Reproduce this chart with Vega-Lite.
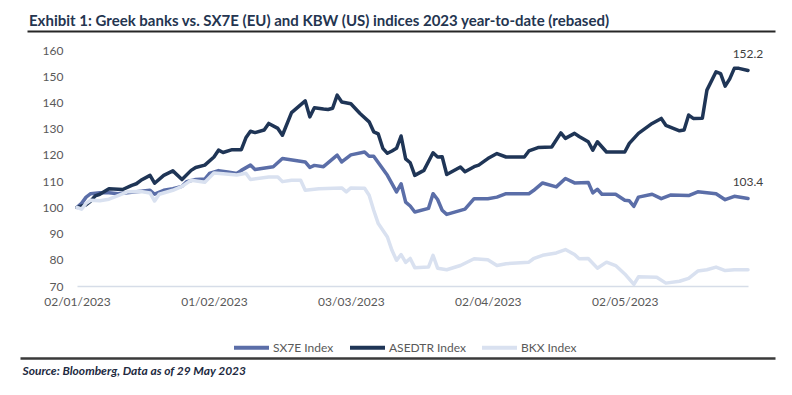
{
"$schema":"https://vega.github.io/schema/vega-lite/v6.json",
"width":671,"height":236,
"autosize":{"type":"none"},
"padding":{"left":77,"top":50,"right":44,"bottom":109},
"background":"white",
"config":{"view":{"stroke":null},"font":"Lato"},
"title":{"text":"Exhibit 1: Greek banks vs. SX7E (EU) and KBW (US) indices 2023 year-to-date (rebased)","anchor":"start","frame":"group","dx":-48,"offset":2,"font":"Lato","fontSize":15,"fontWeight":"bold","color":"#243550"},
"data":{"values":[
{"date":"2023-01-02","series":"SX7E Index","value":100},
{"date":"2023-01-03","series":"SX7E Index","value":101.5},
{"date":"2023-01-04","series":"SX7E Index","value":103.9},
{"date":"2023-01-05","series":"SX7E Index","value":105.2},
{"date":"2023-01-07","series":"SX7E Index","value":105.6},
{"date":"2023-01-09","series":"SX7E Index","value":105.6},
{"date":"2023-01-11","series":"SX7E Index","value":105.2},
{"date":"2023-01-15","series":"SX7E Index","value":105.9},
{"date":"2023-01-18","series":"SX7E Index","value":106.5},
{"date":"2023-01-19","series":"SX7E Index","value":105},
{"date":"2023-01-21","series":"SX7E Index","value":106.5},
{"date":"2023-01-23","series":"SX7E Index","value":107.1},
{"date":"2023-01-25","series":"SX7E Index","value":108},
{"date":"2023-01-26","series":"SX7E Index","value":109.8},
{"date":"2023-01-28","series":"SX7E Index","value":110.6},
{"date":"2023-01-30","series":"SX7E Index","value":110.8},
{"date":"2023-01-31","series":"SX7E Index","value":112.9},
{"date":"2023-02-02","series":"SX7E Index","value":114},
{"date":"2023-02-04","series":"SX7E Index","value":113.5},
{"date":"2023-02-06","series":"SX7E Index","value":112.9},
{"date":"2023-02-07","series":"SX7E Index","value":114.1},
{"date":"2023-02-09","series":"SX7E Index","value":116.1},
{"date":"2023-02-10","series":"SX7E Index","value":114.4},
{"date":"2023-02-14","series":"SX7E Index","value":115.5},
{"date":"2023-02-16","series":"SX7E Index","value":118.6},
{"date":"2023-02-21","series":"SX7E Index","value":117.3},
{"date":"2023-02-22","series":"SX7E Index","value":115.2},
{"date":"2023-02-23","series":"SX7E Index","value":116},
{"date":"2023-02-25","series":"SX7E Index","value":115.5},
{"date":"2023-02-28","series":"SX7E Index","value":119.9},
{"date":"2023-03-01","series":"SX7E Index","value":117.3},
{"date":"2023-03-03","series":"SX7E Index","value":120},
{"date":"2023-03-06","series":"SX7E Index","value":121.1},
{"date":"2023-03-07","series":"SX7E Index","value":119.5},
{"date":"2023-03-08","series":"SX7E Index","value":119.5},
{"date":"2023-03-11","series":"SX7E Index","value":112.2},
{"date":"2023-03-13","series":"SX7E Index","value":105.9},
{"date":"2023-03-14","series":"SX7E Index","value":109},
{"date":"2023-03-15","series":"SX7E Index","value":102},
{"date":"2023-03-16","series":"SX7E Index","value":100.5},
{"date":"2023-03-17","series":"SX7E Index","value":98.2},
{"date":"2023-03-20","series":"SX7E Index","value":99.6},
{"date":"2023-03-21","series":"SX7E Index","value":105.2},
{"date":"2023-03-22","series":"SX7E Index","value":103},
{"date":"2023-03-23","series":"SX7E Index","value":98.9},
{"date":"2023-03-24","series":"SX7E Index","value":97.3},
{"date":"2023-03-28","series":"SX7E Index","value":99.3},
{"date":"2023-03-30","series":"SX7E Index","value":103.3},
{"date":"2023-04-02","series":"SX7E Index","value":103.3},
{"date":"2023-04-04","series":"SX7E Index","value":103.9},
{"date":"2023-04-06","series":"SX7E Index","value":105.2},
{"date":"2023-04-11","series":"SX7E Index","value":105.2},
{"date":"2023-04-12","series":"SX7E Index","value":106.4},
{"date":"2023-04-14","series":"SX7E Index","value":109.3},
{"date":"2023-04-17","series":"SX7E Index","value":107.8},
{"date":"2023-04-19","series":"SX7E Index","value":111},
{"date":"2023-04-21","series":"SX7E Index","value":109.3},
{"date":"2023-04-24","series":"SX7E Index","value":109.5},
{"date":"2023-04-25","series":"SX7E Index","value":105.5},
{"date":"2023-04-26","series":"SX7E Index","value":106.9},
{"date":"2023-04-27","series":"SX7E Index","value":105},
{"date":"2023-04-30","series":"SX7E Index","value":105},
{"date":"2023-05-02","series":"SX7E Index","value":102.7},
{"date":"2023-05-03","series":"SX7E Index","value":102.5},
{"date":"2023-05-04","series":"SX7E Index","value":100.4},
{"date":"2023-05-05","series":"SX7E Index","value":103.9},
{"date":"2023-05-08","series":"SX7E Index","value":105},
{"date":"2023-05-10","series":"SX7E Index","value":103.3},
{"date":"2023-05-12","series":"SX7E Index","value":104.7},
{"date":"2023-05-16","series":"SX7E Index","value":104.5},
{"date":"2023-05-18","series":"SX7E Index","value":105.9},
{"date":"2023-05-22","series":"SX7E Index","value":105.2},
{"date":"2023-05-24","series":"SX7E Index","value":102.9},
{"date":"2023-05-26","series":"SX7E Index","value":104.2},
{"date":"2023-05-29","series":"SX7E Index","value":103.4},
{"date":"2023-01-02","series":"ASEDTR Index","value":100},
{"date":"2023-01-04","series":"ASEDTR Index","value":101},
{"date":"2023-01-05","series":"ASEDTR Index","value":102.4},
{"date":"2023-01-06","series":"ASEDTR Index","value":104.4},
{"date":"2023-01-07","series":"ASEDTR Index","value":105},
{"date":"2023-01-09","series":"ASEDTR Index","value":107.1},
{"date":"2023-01-11","series":"ASEDTR Index","value":106.9},
{"date":"2023-01-12","series":"ASEDTR Index","value":106.8},
{"date":"2023-01-14","series":"ASEDTR Index","value":108.4},
{"date":"2023-01-15","series":"ASEDTR Index","value":109},
{"date":"2023-01-16","series":"ASEDTR Index","value":110.3},
{"date":"2023-01-18","series":"ASEDTR Index","value":112.2},
{"date":"2023-01-19","series":"ASEDTR Index","value":109.2},
{"date":"2023-01-21","series":"ASEDTR Index","value":112.2},
{"date":"2023-01-23","series":"ASEDTR Index","value":113.9},
{"date":"2023-01-25","series":"ASEDTR Index","value":110.6},
{"date":"2023-01-27","series":"ASEDTR Index","value":114.1},
{"date":"2023-01-28","series":"ASEDTR Index","value":115.2},
{"date":"2023-01-30","series":"ASEDTR Index","value":116.1},
{"date":"2023-02-01","series":"ASEDTR Index","value":119.2},
{"date":"2023-02-02","series":"ASEDTR Index","value":121.8},
{"date":"2023-02-03","series":"ASEDTR Index","value":120.9},
{"date":"2023-02-05","series":"ASEDTR Index","value":122},
{"date":"2023-02-07","series":"ASEDTR Index","value":122},
{"date":"2023-02-08","series":"ASEDTR Index","value":126.5},
{"date":"2023-02-09","series":"ASEDTR Index","value":129},
{"date":"2023-02-10","series":"ASEDTR Index","value":128.5},
{"date":"2023-02-12","series":"ASEDTR Index","value":129.5},
{"date":"2023-02-13","series":"ASEDTR Index","value":132},
{"date":"2023-02-15","series":"ASEDTR Index","value":130.1},
{"date":"2023-02-16","series":"ASEDTR Index","value":127.5},
{"date":"2023-02-18","series":"ASEDTR Index","value":136.1},
{"date":"2023-02-21","series":"ASEDTR Index","value":140.6},
{"date":"2023-02-22","series":"ASEDTR Index","value":134.5},
{"date":"2023-02-23","series":"ASEDTR Index","value":138},
{"date":"2023-02-25","series":"ASEDTR Index","value":137.5},
{"date":"2023-02-26","series":"ASEDTR Index","value":137.3},
{"date":"2023-02-27","series":"ASEDTR Index","value":137.8},
{"date":"2023-02-28","series":"ASEDTR Index","value":142.8},
{"date":"2023-03-01","series":"ASEDTR Index","value":140.2},
{"date":"2023-03-03","series":"ASEDTR Index","value":139.5},
{"date":"2023-03-05","series":"ASEDTR Index","value":135.8},
{"date":"2023-03-07","series":"ASEDTR Index","value":132.6},
{"date":"2023-03-08","series":"ASEDTR Index","value":128.8},
{"date":"2023-03-09","series":"ASEDTR Index","value":128},
{"date":"2023-03-10","series":"ASEDTR Index","value":122.5},
{"date":"2023-03-11","series":"ASEDTR Index","value":120.6},
{"date":"2023-03-12","series":"ASEDTR Index","value":121.5},
{"date":"2023-03-13","series":"ASEDTR Index","value":122.5},
{"date":"2023-03-14","series":"ASEDTR Index","value":127.2},
{"date":"2023-03-15","series":"ASEDTR Index","value":118.5},
{"date":"2023-03-16","series":"ASEDTR Index","value":117},
{"date":"2023-03-17","series":"ASEDTR Index","value":112.2},
{"date":"2023-03-19","series":"ASEDTR Index","value":114.1},
{"date":"2023-03-21","series":"ASEDTR Index","value":120.8},
{"date":"2023-03-22","series":"ASEDTR Index","value":119.2},
{"date":"2023-03-23","series":"ASEDTR Index","value":119.3},
{"date":"2023-03-24","series":"ASEDTR Index","value":112.5},
{"date":"2023-03-27","series":"ASEDTR Index","value":115.4},
{"date":"2023-03-28","series":"ASEDTR Index","value":113.6},
{"date":"2023-03-30","series":"ASEDTR Index","value":115.5},
{"date":"2023-03-31","series":"ASEDTR Index","value":116.1},
{"date":"2023-04-02","series":"ASEDTR Index","value":118.6},
{"date":"2023-04-04","series":"ASEDTR Index","value":120.5},
{"date":"2023-04-06","series":"ASEDTR Index","value":119.2},
{"date":"2023-04-10","series":"ASEDTR Index","value":119.2},
{"date":"2023-04-11","series":"ASEDTR Index","value":121.5},
{"date":"2023-04-13","series":"ASEDTR Index","value":122.8},
{"date":"2023-04-16","series":"ASEDTR Index","value":123},
{"date":"2023-04-18","series":"ASEDTR Index","value":128.4},
{"date":"2023-04-19","series":"ASEDTR Index","value":126.3},
{"date":"2023-04-21","series":"ASEDTR Index","value":128.2},
{"date":"2023-04-22","series":"ASEDTR Index","value":127},
{"date":"2023-04-24","series":"ASEDTR Index","value":125},
{"date":"2023-04-25","series":"ASEDTR Index","value":121.8},
{"date":"2023-04-26","series":"ASEDTR Index","value":125},
{"date":"2023-04-28","series":"ASEDTR Index","value":121.1},
{"date":"2023-05-02","series":"ASEDTR Index","value":121.1},
{"date":"2023-05-03","series":"ASEDTR Index","value":124.4},
{"date":"2023-05-05","series":"ASEDTR Index","value":128.2},
{"date":"2023-05-08","series":"ASEDTR Index","value":132},
{"date":"2023-05-10","series":"ASEDTR Index","value":133.9},
{"date":"2023-05-11","series":"ASEDTR Index","value":131.3},
{"date":"2023-05-14","series":"ASEDTR Index","value":129.2},
{"date":"2023-05-15","series":"ASEDTR Index","value":129.5},
{"date":"2023-05-16","series":"ASEDTR Index","value":135.2},
{"date":"2023-05-17","series":"ASEDTR Index","value":133.9},
{"date":"2023-05-19","series":"ASEDTR Index","value":134},
{"date":"2023-05-20","series":"ASEDTR Index","value":144.7},
{"date":"2023-05-22","series":"ASEDTR Index","value":151.7},
{"date":"2023-05-23","series":"ASEDTR Index","value":151},
{"date":"2023-05-24","series":"ASEDTR Index","value":146.2},
{"date":"2023-05-25","series":"ASEDTR Index","value":149},
{"date":"2023-05-26","series":"ASEDTR Index","value":153},
{"date":"2023-05-27","series":"ASEDTR Index","value":153},
{"date":"2023-05-29","series":"ASEDTR Index","value":152.2},
{"date":"2023-01-02","series":"BKX Index","value":100},
{"date":"2023-01-03","series":"BKX Index","value":99.3},
{"date":"2023-01-04","series":"BKX Index","value":101.5},
{"date":"2023-01-05","series":"BKX Index","value":102.7},
{"date":"2023-01-07","series":"BKX Index","value":102.5},
{"date":"2023-01-09","series":"BKX Index","value":103.1},
{"date":"2023-01-11","series":"BKX Index","value":104.5},
{"date":"2023-01-13","series":"BKX Index","value":105.9},
{"date":"2023-01-16","series":"BKX Index","value":106},
{"date":"2023-01-18","series":"BKX Index","value":105.5},
{"date":"2023-01-19","series":"BKX Index","value":102.4},
{"date":"2023-01-20","series":"BKX Index","value":105},
{"date":"2023-01-23","series":"BKX Index","value":106.5},
{"date":"2023-01-25","series":"BKX Index","value":108},
{"date":"2023-01-27","series":"BKX Index","value":110.3},
{"date":"2023-01-30","series":"BKX Index","value":109.6},
{"date":"2023-02-01","series":"BKX Index","value":113.1},
{"date":"2023-02-03","series":"BKX Index","value":112.8},
{"date":"2023-02-06","series":"BKX Index","value":112.3},
{"date":"2023-02-08","series":"BKX Index","value":113},
{"date":"2023-02-09","series":"BKX Index","value":110.6},
{"date":"2023-02-13","series":"BKX Index","value":111.6},
{"date":"2023-02-15","series":"BKX Index","value":111.6},
{"date":"2023-02-16","series":"BKX Index","value":109.8},
{"date":"2023-02-18","series":"BKX Index","value":110.3},
{"date":"2023-02-20","series":"BKX Index","value":110.3},
{"date":"2023-02-21","series":"BKX Index","value":106.5},
{"date":"2023-02-24","series":"BKX Index","value":107.1},
{"date":"2023-03-01","series":"BKX Index","value":107.4},
{"date":"2023-03-02","series":"BKX Index","value":105.9},
{"date":"2023-03-03","series":"BKX Index","value":107.4},
{"date":"2023-03-06","series":"BKX Index","value":107.3},
{"date":"2023-03-07","series":"BKX Index","value":104.6},
{"date":"2023-03-08","series":"BKX Index","value":98.9},
{"date":"2023-03-09","series":"BKX Index","value":93.8},
{"date":"2023-03-11","series":"BKX Index","value":88.7},
{"date":"2023-03-12","series":"BKX Index","value":83.6},
{"date":"2023-03-13","series":"BKX Index","value":79.8},
{"date":"2023-03-14","series":"BKX Index","value":82},
{"date":"2023-03-15","series":"BKX Index","value":79},
{"date":"2023-03-16","series":"BKX Index","value":80.5},
{"date":"2023-03-17","series":"BKX Index","value":77},
{"date":"2023-03-20","series":"BKX Index","value":77.2},
{"date":"2023-03-21","series":"BKX Index","value":81.7},
{"date":"2023-03-22","series":"BKX Index","value":76.8},
{"date":"2023-03-24","series":"BKX Index","value":76.2},
{"date":"2023-03-27","series":"BKX Index","value":77.8},
{"date":"2023-03-30","series":"BKX Index","value":80.4},
{"date":"2023-04-02","series":"BKX Index","value":80},
{"date":"2023-04-04","series":"BKX Index","value":77.8},
{"date":"2023-04-06","series":"BKX Index","value":78.5},
{"date":"2023-04-11","series":"BKX Index","value":79.1},
{"date":"2023-04-12","series":"BKX Index","value":80.4},
{"date":"2023-04-14","series":"BKX Index","value":81.7},
{"date":"2023-04-17","series":"BKX Index","value":82.6},
{"date":"2023-04-19","series":"BKX Index","value":83.9},
{"date":"2023-04-21","series":"BKX Index","value":82},
{"date":"2023-04-22","series":"BKX Index","value":80.4},
{"date":"2023-04-24","series":"BKX Index","value":80.5},
{"date":"2023-04-26","series":"BKX Index","value":76.8},
{"date":"2023-04-28","series":"BKX Index","value":79.1},
{"date":"2023-04-30","series":"BKX Index","value":77.8},
{"date":"2023-05-02","series":"BKX Index","value":74.6},
{"date":"2023-05-04","series":"BKX Index","value":70.6},
{"date":"2023-05-05","series":"BKX Index","value":73.5},
{"date":"2023-05-09","series":"BKX Index","value":73.3},
{"date":"2023-05-11","series":"BKX Index","value":71.1},
{"date":"2023-05-14","series":"BKX Index","value":71.8},
{"date":"2023-05-16","series":"BKX Index","value":72.9},
{"date":"2023-05-18","series":"BKX Index","value":75.7},
{"date":"2023-05-20","series":"BKX Index","value":76.2},
{"date":"2023-05-22","series":"BKX Index","value":77.2},
{"date":"2023-05-24","series":"BKX Index","value":75.9},
{"date":"2023-05-26","series":"BKX Index","value":76.2},
{"date":"2023-05-29","series":"BKX Index","value":76.2}
]},
"layer":[
{"encoding":{
"x":{"field":"date","type":"temporal","scale":{"type":"utc","nice":false,"domain":[{"year":2023,"month":1,"date":2,"utc":true},{"year":2023,"month":5,"date":29,"utc":true}]},
"axis":{"values":[{"year":2023,"month":1,"date":2,"utc":true},{"year":2023,"month":2,"date":1,"utc":true},{"year":2023,"month":3,"date":3,"utc":true},{"year":2023,"month":4,"date":2,"utc":true},{"year":2023,"month":5,"date":2,"utc":true}],"labelExpr":"utcFormat(datum.value, '%d/%m/%Y')","title":null,"grid":false,"ticks":false,"domainColor":"#d6dde8","domainWidth":1.5,"labelFont":"Lato","labelFontSize":12,"labelColor":"#595959","labelPadding":10,"labelFlush":false}},
"y":{"field":"value","type":"quantitative","scale":{"domain":[70,160],"nice":false,"zero":false},
"axis":{"values":[70,80,90,100,110,120,130,140,150,160],"title":null,"grid":false,"ticks":false,"domain":false,"labelFont":"Lato","labelFontSize":12,"labelColor":"#595959","labelPadding":14}}
},
"layer":[
{"mark":{"type":"line","strokeWidth":3.5,"strokeCap":"round","strokeJoin":"round"},
"encoding":{
"color":{"field":"series","type":"nominal","scale":{"domain":["SX7E Index","ASEDTR Index","BKX Index"],"range":["#5b6ea8","#1f3556","#d9e1f0"]},
"legend":{"orient":"none","legendX":155,"legendY":278,"direction":"horizontal","title":null,"symbolType":"stroke","symbolSize":1225,"symbolStrokeWidth":4,"labelFont":"Lato","labelFontSize":12,"labelColor":"#595959","labelOffset":2,"columnPadding":8}}
}},
{"transform":[{"filter":{"field":"series","oneOf":["SX7E Index","ASEDTR Index"]}},{"filter":{"field":"date","equal":{"year":2023,"month":5,"date":29,"utc":true}}}],
"mark":{"type":"text","dy":-16,"fontSize":12,"font":"Lato","color":"#404040"},
"encoding":{"text":{"field":"value","type":"quantitative","format":".1f"}}}
]},
{"mark":{"type":"point","opacity":0},
"encoding":{"x":{"field":"date","type":"temporal","scale":{"type":"utc","range":[-50,698]},"axis":{"orient":"top","offset":19,"domainColor":"#262626","domainWidth":2,"labels":false,"ticks":false,"grid":false,"title":null}}}},
{"mark":{"type":"point","opacity":0},
"encoding":{"x":{"field":"date","type":"temporal","scale":{"type":"utc","range":[-57,698]},"axis":{"orient":"bottom","offset":72,"domainColor":"#3a3a3a","domainWidth":2.5,"labels":false,"ticks":false,"grid":false,"title":"Source: Bloomberg, Data as of 29 May 2023","titleFont":"Lato","titleFontSize":12,"titleFontStyle":"italic","titleFontWeight":"bold","titleColor":"#222a3f","titleAnchor":"start","titleAlign":"left","titleX":-55,"titleY":12,"titleBaseline":"middle"}}}}
],
"resolve":{"scale":{"x":"independent"},"axis":{"x":"independent"}}
}
